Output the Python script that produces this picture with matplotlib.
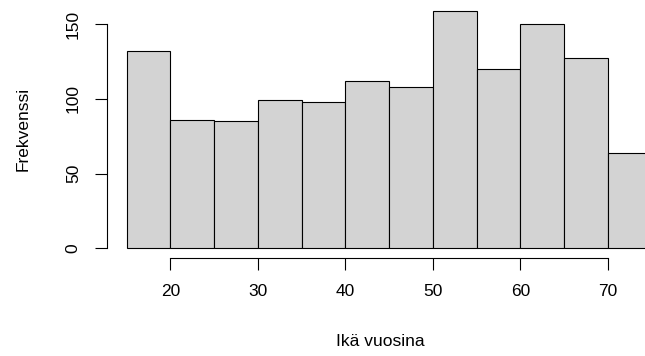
import matplotlib
matplotlib.use("Agg")
import matplotlib.pyplot as plt
import numpy as np

# age histogram, 5-year bins
bin_edges = [15, 20, 25, 30, 35, 40, 45, 50, 55, 60, 65, 70, 75]
counts = [132, 86, 85, 99, 98, 112, 108, 159, 120, 150, 127, 64]
x_ticks = [20, 30, 40, 50, 60, 70]
y_ticks = [0, 50, 100, 150]

plt.rcParams['font.family'] = ['Liberation Sans', 'DejaVu Sans']

fig = plt.figure(figsize=(6.45, 3.56), dpi=100)
ax = fig.add_axes([106.7 / 645, (356 - 258) / 356, (645 - 106.7) / 645, 258 / 356])

left = np.array(bin_edges[:-1])
widths = np.diff(bin_edges)
ax.bar(left, counts, width=widths, align='edge', color='#d3d3d3',
       edgecolor='black', linewidth=0.8)

ax.set_xlim(12.71, 74.23)
ax.set_ylim(-6.49, 166.06)

for s in ['top', 'right']:
    ax.spines[s].set_visible(False)
ax.spines['left'].set_bounds(0, 150)
ax.spines['bottom'].set_bounds(20, 70)
ax.spines['left'].set_linewidth(0.8)
ax.spines['bottom'].set_linewidth(0.8)

ax.set_xticks(x_ticks)
ax.set_yticks(y_ticks)
ax.set_yticklabels([str(v) for v in y_ticks], rotation=90, va='center')
ax.tick_params(axis='both', direction='out', length=8.6, width=0.8,
               labelsize=12.5, pad=10)

fig.text(380 / 645, 1 - 341 / 356, "Ikä vuosina", ha='center', va='center',
         fontsize=12.5)
fig.text(23 / 645, 1 - 129 / 356, "Frekvenssi", ha='center', va='center',
         rotation=90, fontsize=12.5)

fig.savefig("out.png", dpi=100)
